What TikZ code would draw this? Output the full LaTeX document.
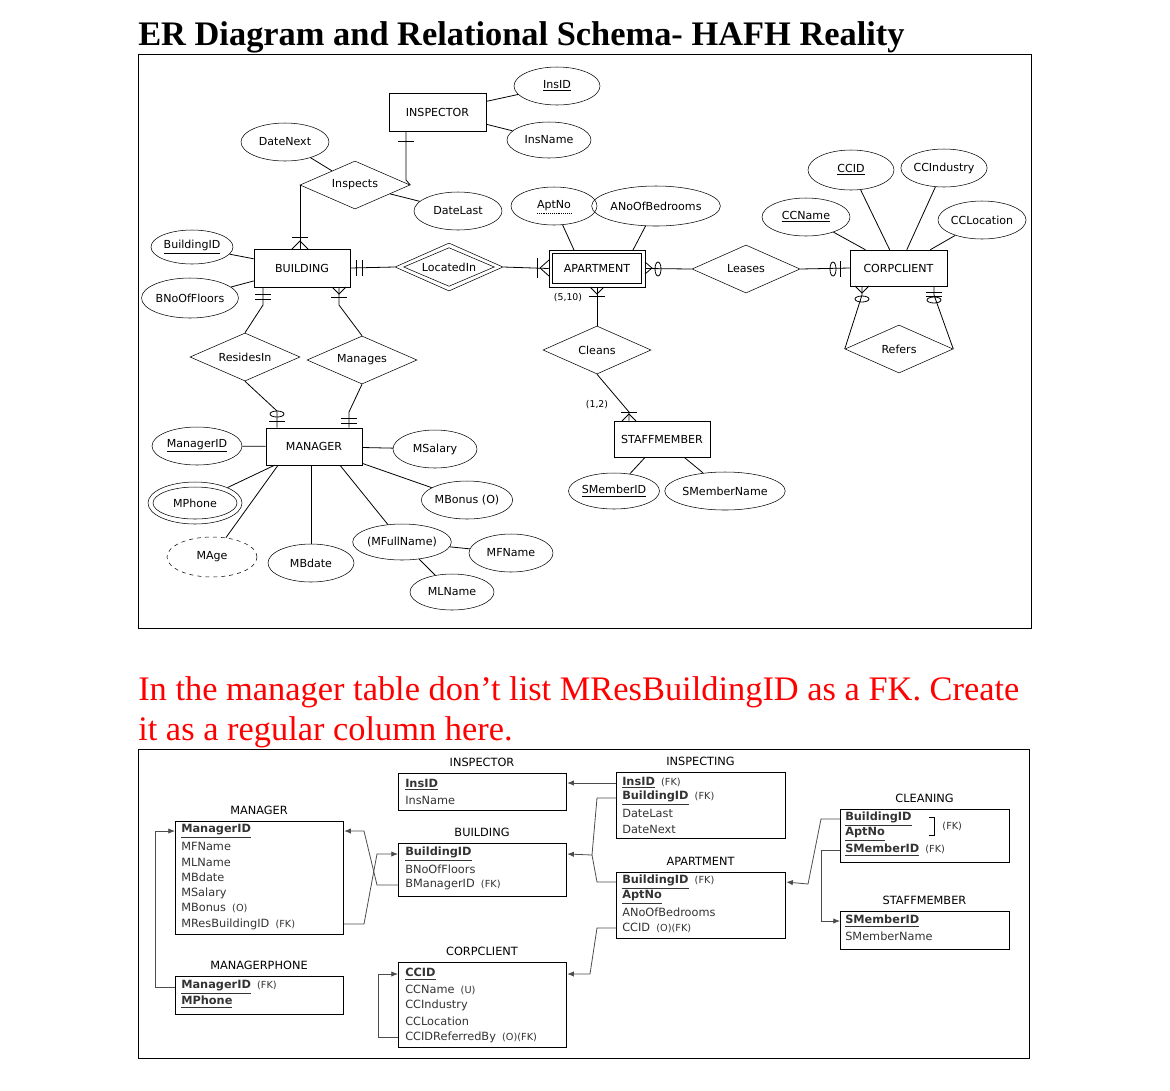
\documentclass[tikz,border=0pt]{standalone}
\usepackage{fontspec}
\setmainfont{Liberation Serif}
\newfontfamily\dv{DejaVu Sans}
\usetikzlibrary{shapes.geometric,arrows.meta}
\tikzset{
 ell/.style={draw,ellipse,inner sep=0pt,font=\dv\fontsize{8.3}{9}\selectfont},
 ent/.style={draw,rectangle,inner sep=0pt,font=\dv\fontsize{8.3}{9}\selectfont},
 rel/.style={draw,diamond,aspect=2.25,inner sep=0pt,font=\dv\fontsize{8.3}{9}\selectfont},
 ln/.style={line width=0.6pt},
 lbl/.style={font=\dv\fontsize{7}{8}\selectfont,inner sep=0pt},
 tbl/.style={draw,line width=0.9pt},
 ttl/.style={font=\dv\fontsize{8.5}{10}\selectfont,inner sep=0pt},
 row/.style={font=\dv\fontsize{8.5}{10}\selectfont,inner sep=0pt,anchor=west,text=black!80},
 ar/.style={line width=0.6pt,-{Latex[length=5pt,width=4pt]},draw=black!70},
 pl/.style={line width=0.6pt,draw=black!70},
}
\newcommand\El[6]{\node[ell,minimum width={1.5pt*#4},minimum height={1.5pt*#5}] (#1) at (#2,#3) {#6};}
\newcommand\fk[1]{{\fontsize{7.3}{8}\selectfont\ \ #1}}
\begin{document}
\begin{tikzpicture}[x=0.75pt,y=-0.75pt]
\useasboundingbox (0,0) rectangle (1170,1090);
\node[anchor=base west,inner sep=0pt,font=\fontsize{25.8}{28}\selectfont\bfseries] (title) at (138,45) {ER Diagram and Relational Schema- HAFH Reality};
\node[draw,ln,minimum width=669.75pt,minimum height=430.5pt,inner sep=0pt,anchor=north west] (frame1) at (138,54) {};
% entities
\node[ent,minimum width=72.75pt,minimum height=28.5pt] (inspector) at (437.5,112) {INSPECTOR};
\node[ent,minimum width=72pt,minimum height=28.5pt] (building) at (302,268) {BUILDING};
\node[ent,minimum width=72pt,minimum height=27.75pt] (apt) at (597,268.5) {APARTMENT};
\node[draw,minimum width=66.75pt,minimum height=22.5pt,inner sep=0pt] (apt2) at (597,268.5) {};
\node[ent,minimum width=72.75pt,minimum height=27pt] (corp) at (898.5,268) {CORPCLIENT};
\node[ent,minimum width=72pt,minimum height=27.75pt] (manager) at (314,446.5) {MANAGER};
\node[ent,minimum width=72pt,minimum height=27pt] (staff) at (662,439) {STAFFMEMBER};
% attributes
\El{insid}{557}{86}{43}{19}{\underline{InsID}}
\El{insname}{549}{140}{42}{18}{InsName}
\El{datenext}{285}{142}{44}{19}{DateNext}
\El{datelast}{458}{211}{44}{19}{DateLast}
\El{aptno}{554}{206}{43}{19}{AptNo}
\draw[densely dotted] (537,213) -- (572,213);
\El{anob}{656}{206}{52}{20}{ANoOfBedrooms}
\El{ccid}{851}{170}{43}{20}{\underline{CCID}}
\El{ccind}{944}{168}{43}{19}{CCIndustry}
\El{ccname}{806}{217}{44}{19}{\underline{CCName}}
\El{ccloc}{982}{220}{43}{19}{CCLocation}
\El{bid}{192}{247}{41}{17}{\underline{BuildingID}}
\El{bnof}{190}{298}{41}{20}{BNoOfFloors}
\El{smid}{614}{491}{42}{18}{\underline{SMemberID}}
\El{smname}{725}{491}{51}{19}{SMemberName}
\El{mid}{197}{446}{45}{19}{\underline{ManagerID}}
\El{msal}{435}{449}{42}{19}{MSalary}
\El{mphone}{195}{503}{47}{21}{MPhone}
\node[draw,ellipse,minimum width={1.5pt*42},minimum height={1.5pt*16}] (mphone2) at (195,503) {};
\El{mbonus}{467}{500}{44}{19}{MBonus (O)}
\node[ell,dashed,minimum width={1.5pt*45},minimum height={1.5pt*20}] (mage) at (212,557) {MAge};
\El{mbdate}{311}{563}{43}{19}{MBdate}
\El{mfull}{402}{542}{42}{18}{(MFullName)}
\El{mfname}{511}{553}{42}{19}{MFName}
\El{mlname}{452}{592}{42}{18}{MLName}
% relationships
\node[rel,minimum width=82.5pt,minimum height=36pt] (inspects) at (355,185) {Inspects};
\node[rel,minimum width=81pt,minimum height=36pt] (located) at (449,267) {};
\node[rel,minimum width=68pt,minimum height=29pt] (located2) at (449,267) {LocatedIn};
\node[rel,minimum width=81pt,minimum height=36pt] (leases) at (746,269) {Leases};
\node[rel,minimum width=81pt,minimum height=36pt] (cleans) at (597,350) {Cleans};
\node[rel,minimum width=81pt,minimum height=36pt] (refers) at (899,349) {Refers};
\node[rel,minimum width=82.5pt,minimum height=36pt] (resides) at (245,357) {ResidesIn};
\node[rel,minimum width=82.5pt,minimum height=36pt] (manages) at (362,360) {Manages};
\node[lbl] (l510) at (568,298) {(5,10)};
\node[lbl] (l12) at (597,405) {(1,2)};
% connectors
\begin{scope}[ln]
\draw (inspector) -- (insid); \draw (inspector) -- (insname);
\draw (inspects) -- (datenext); \draw (inspects) -- (datelast);
\draw (inspector.south -| 406,0) -- (406,180) -- (inspects.east);
\draw (398,141)--(414,141);
\draw (inspects.west) -- (300,185) -- (building.north -| 300,0);
\draw (292,237)--(308,237); \draw (292,249)--(300,241)--(308,249);
\draw (building) -- (bid); \draw (building) -- (bnof);
\draw (building.east) -- (located.west);
\draw (356,260)--(356,276); \draw (362,260)--(362,276);
\draw (located.east) -- (apt.west);
\draw (537,258)--(537,278); \draw (540,268)--(549,260); \draw (540,268)--(549,276);
\draw (aptno) -- (574,250); \draw (anob) -- (633,250);
\draw (apt.east) -- (leases.west);
\draw (645,262)--(652,268)--(645,274);
\draw (658,269) ellipse [x radius=3,y radius=7];
\draw (leases.east) -- (corp.west);
\draw (833,269) ellipse [x radius=3,y radius=7]; \draw (840,261)--(840,277);
\draw (corp) -- (ccid); \draw (corp) -- (ccind); \draw (corp) -- (ccname); \draw (corp) -- (ccloc);
\draw (corp.south -| 862,0) -- (862,295) -- (refers.west);
\draw (855,286)--(862,293)--(869,286);
\draw (862,299) ellipse [x radius=7,y radius=3];
\draw (corp.south -| 934,0) -- (934,295) -- (refers.east);
\draw (926,292)--(942,292);\draw (926,296)--(942,296);
\draw (934,300) ellipse [x radius=7,y radius=3];
\draw (building.south -| 263,0) -- (263,305) -- (resides.north);
\draw (255,294)--(271,294); \draw (255,299)--(271,299);
\draw (building.south -| 339,0) -- (339,305) -- (manages.north);
\draw (332,287)--(339,294)--(346,287); \draw (331,297)--(347,297);
\draw (resides.south) -- (277,411) -- (manager.north -| 277,0);
\draw (269,421)--(285,421);
\draw (277,414) ellipse [x radius=7,y radius=3];
\draw (manages.south) -- (349,412) -- (manager.north -| 349,0);
\draw (341,418)--(357,418); \draw (341,423)--(357,423);
\draw (apt.south) -- (cleans.north);
\draw (590,287)--(597,294)--(604,287); \draw (589,296)--(605,296);
\draw (cleans.south) -- (629,412) -- (staff.north -| 629,0);
\draw (621,412)--(637,412); \draw (622,421)--(629,414)--(636,421);
\draw (staff) -- (smid); \draw (staff) -- (smname);
\draw (manager) -- (mid); \draw (manager) -- (msal);
\draw (manager) -- (mphone); \draw (manager) -- (mbonus);
\draw (manager.south -| 278,0) -- (mage); \draw (manager.south -| 311,0) -- (mbdate);
\draw (manager.south -| 340,0) -- (mfull);
\draw (mfull) -- (mfname); \draw (mfull) -- (mlname);
\end{scope}
% red text
\node[anchor=base west,inner sep=0pt,text=red,align=left,font=\fontsize{25.8}{30}\selectfont] (note) at (138,740) {In the manager table don’t list MResBuildingID as a FK. Create\\it as a regular column here.};
% relational schema
\node[draw,ln,minimum width=668.25pt,minimum height=231.75pt,inner sep=0pt,anchor=north west] (frame2) at (138,749) {};
\newcommand\Tb[6]{\node[tbl,minimum width={0.75pt*(#4-#2)},minimum height={0.75pt*(#5-#3)},inner sep=0pt,anchor=north west] (#1) at (#2,#3) {};
 \node[ttl] (#1t) at ({(#2+#4)/2},{#3-11}) {#6};}
\newcommand\R[4]{\node[row] (#1) at (#2,#3) {#4};}
\newcommand\K[1]{\textbf{\underline{#1}}}
\Tb{tins}{398}{773}{566}{810}{INSPECTOR}
\R{r1}{405}{785}{\K{InsID}} \R{r2}{405}{800}{InsName}
\Tb{tman}{175}{821}{343}{934}{MANAGER}
\R{r3}{181}{831}{\K{ManagerID}} \R{r4}{181}{846}{MFName} \R{r5}{181}{862}{MLName}
\R{r6}{181}{877}{MBdate} \R{r7}{181}{893}{MSalary} \R{r8}{181}{908}{MBonus\fk{(O)}}
\R{r9}{181}{924}{MResBuildingID\fk{(FK)}}
\Tb{tbld}{398}{843}{566}{896}{BUILDING}
\R{r10}{405}{854}{\K{BuildingID}} \R{r11}{405}{869}{BNoOfFloors} \R{r12}{405}{885}{BManagerID\fk{(FK)}}
\Tb{tmp}{175}{976}{343}{1014}{MANAGERPHONE}
\R{r13}{181}{987}{\K{ManagerID}\fk{(FK)}} \R{r14}{181}{1002}{\K{MPhone}}
\Tb{tcc}{398}{962}{566}{1047}{CORPCLIENT}
\R{r15}{405}{974}{\K{CCID}} \R{r16}{405}{990}{CCName\fk{(U)}} \R{r17}{405}{1005}{CCIndustry}
\R{r18}{405}{1021}{CCLocation} \R{r19}{405}{1037}{CCIDReferredBy\fk{(O)(FK)}}
\Tb{tinsp}{616}{772}{785}{838}{INSPECTING}
\R{r20}{622}{783}{\K{InsID}\fk{(FK)}} \R{r21}{622}{798}{\K{BuildingID}\fk{(FK)}}
\R{r22}{622}{813}{DateLast} \R{r23}{622}{829}{DateNext}
\Tb{tapt}{616}{872}{785}{938}{APARTMENT}
\R{r24}{622}{882}{\K{BuildingID}\fk{(FK)}} \R{r25}{622}{897}{\K{AptNo}}
\R{r26}{622}{912}{ANoOfBedrooms} \R{r27}{622}{928}{CCID\fk{(O)(FK)}}
\Tb{tcl}{840}{809}{1009}{862}{CLEANING}
\R{r28}{845}{819}{\K{BuildingID}} \R{r29}{845}{834}{\K{AptNo}} \R{r30}{845}{850}{\K{SMemberID}\fk{(FK)}}
\node[row] (r31) at (936,826) {\fk{(FK)}};
\draw[line width=0.6pt] (929,817)--(934,817)--(934,835)--(929,835);
\Tb{tsm}{840}{911}{1009}{949}{STAFFMEMBER}
\R{r32}{845}{921}{\K{SMemberID}} \R{r33}{845}{936}{SMemberName}
% schema arrows
\draw[ar] (tinsp.west |- r20) -- (tins.east |- r20);
\draw[ar] (tinsp.west |- r21) -- (597,798) -- (592,855) -- (tbld.east |- r10);
\draw[pl] (tapt.west |- r24) -- (597,882) -- (592,855);
\draw[ar] (tman.east |- r9) -- (364,924) -- (377,854) -- (tbld.west |- r10);
\draw[ar] (tbld.west |- r12) -- (377,885) -- (364,831) -- (tman.east |- r3);
\draw[ar] (tmp.west |- r13) -- (155,987) -- (155,831) -- (tman.west |- r3);
\draw[ar] (tcc.west |- r19) -- (378,1037) -- (378,974) -- (tcc.west |- r15);
\draw[ar] (tapt.west |- r27) -- (597,928) -- (590,974) -- (tcc.east |- r15);
\draw[ar] (tcl.west |- r28) -- (821,819) -- (808,884) -- (tapt.east |- r24);
\draw[ar] (tcl.west |- r30) -- (821,850) -- (821,921) -- (tsm.west |- r32);
\end{tikzpicture}
\end{document}
